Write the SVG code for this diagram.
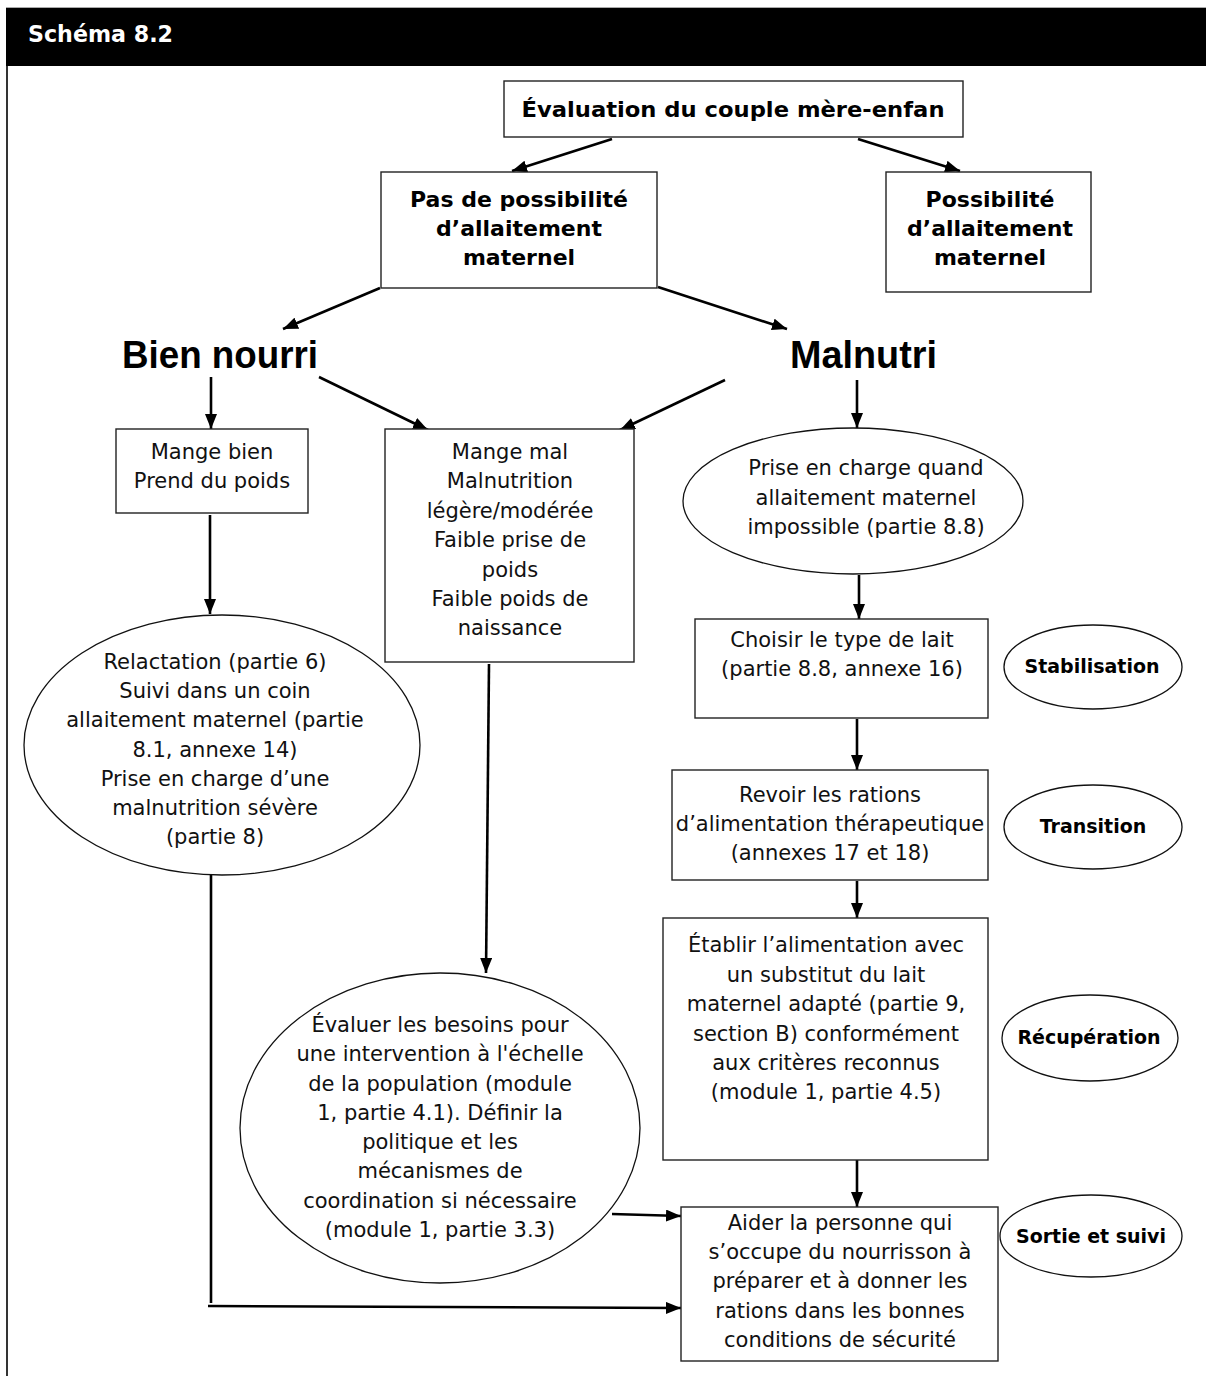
<svg xmlns="http://www.w3.org/2000/svg" width="1206" height="1376" viewBox="0 0 1206 1376">
<style>
.box{fill:#fff;stroke:#222;stroke-width:1.4}
.ell{fill:#fff;stroke:#111;stroke-width:1.3}
.t{font-family:"DejaVu Sans",Verdana,sans-serif;font-size:21px;fill:#111;text-anchor:middle}
.h{font-family:"DejaVu Sans",Verdana,sans-serif;font-weight:700;font-size:22px;fill:#000;text-anchor:middle}
.big{font-family:"Liberation Sans",Arial,sans-serif;font-weight:700;font-size:39px;fill:#000}
.ph{font-family:"DejaVu Sans",Verdana,sans-serif;font-weight:700;font-size:19px;fill:#000;text-anchor:middle}
.c{fill:none;stroke:#000;stroke-width:2.6}
</style>
<defs>
<marker id="ah" markerUnits="userSpaceOnUse" markerWidth="16" markerHeight="12" refX="15" refY="6" orient="auto">
<path d="M0,0 L15,6 L0,12 z" fill="#000"/>
</marker>
</defs>
<rect width="1206" height="1376" fill="#fff"/>
<g id="header">
<line x1="6" y1="7.5" x2="1206" y2="7.5" stroke="#aaa" stroke-width="1"/>
<rect x="6" y="8" width="1200" height="58" fill="#000"/>
<text x="28" y="42" font-family="'DejaVu Sans',Verdana,sans-serif" font-weight="700" font-size="23" fill="#fff" textLength="145" lengthAdjust="spacingAndGlyphs">Schéma 8.2</text>
<line x1="7" y1="66" x2="7" y2="1376" stroke="#000" stroke-width="1.6"/>
</g>
<g id="connectors">
<line class="c" x1="612" y1="139" x2="512" y2="171" marker-end="url(#ah)"/>
<line class="c" x1="858" y1="139" x2="960" y2="171" marker-end="url(#ah)"/>
<line class="c" x1="380" y1="288" x2="283" y2="329" marker-end="url(#ah)"/>
<line class="c" x1="658" y1="287" x2="787" y2="329" marker-end="url(#ah)"/>
<line class="c" x1="211" y1="377" x2="211" y2="429" marker-end="url(#ah)"/>
<line class="c" x1="319" y1="377" x2="428" y2="430" marker-end="url(#ah)"/>
<line class="c" x1="725" y1="380" x2="620" y2="430" marker-end="url(#ah)"/>
<line class="c" x1="857" y1="380" x2="857" y2="428" marker-end="url(#ah)"/>
<line class="c" x1="210" y1="515" x2="210" y2="614" marker-end="url(#ah)"/>
<line class="c" x1="489" y1="664" x2="486" y2="973" marker-end="url(#ah)"/>
<line class="c" x1="859" y1="575" x2="859" y2="619" marker-end="url(#ah)"/>
<line class="c" x1="857" y1="719" x2="857" y2="770" marker-end="url(#ah)"/>
<line class="c" x1="857" y1="881" x2="857" y2="918" marker-end="url(#ah)"/>
<line class="c" x1="857" y1="1160" x2="857" y2="1207" marker-end="url(#ah)"/>
<line class="c" x1="612" y1="1214" x2="681" y2="1216" marker-end="url(#ah)"/>
<polyline class="c" points="211,875 211,1303"/>
<line class="c" x1="208" y1="1306" x2="681" y2="1308" marker-end="url(#ah)"/>
</g>
<g id="n-evaluation">
<rect class="box" x="504" y="81" width="459" height="56"/>
<text class="h" x="733" y="117" textLength="423" lengthAdjust="spacingAndGlyphs">Évaluation du couple mère-enfan</text>
</g>
<g id="n-pas-possibilite">
<rect class="box" x="381" y="172" width="276" height="116"/>
<text class="h" x="519" y="207">Pas de possibilité</text>
<text class="h" x="519" y="236">d’allaitement</text>
<text class="h" x="519" y="265">maternel</text>
</g>
<g id="n-possibilite">
<rect class="box" x="886" y="172" width="205" height="120"/>
<text class="h" x="990" y="207">Possibilité</text>
<text class="h" x="990" y="236">d’allaitement</text>
<text class="h" x="990" y="265">maternel</text>
</g>
<g id="n-bien-nourri">
<text class="big" x="122" y="368" textLength="196" lengthAdjust="spacingAndGlyphs">Bien nourri</text>
</g>
<g id="n-malnutri">
<text class="big" x="790" y="368" textLength="147" lengthAdjust="spacingAndGlyphs">Malnutri</text>
</g>
<g id="n-mange-bien">
<rect class="box" x="116" y="429" width="192" height="84"/>
<text class="t" x="212" y="459">Mange bien</text>
<text class="t" x="212" y="488">Prend du poids</text>
</g>
<g id="n-mange-mal">
<rect class="box" x="385" y="429" width="249" height="233"/>
<text class="t" x="510" y="459">Mange mal</text>
<text class="t" x="510" y="488">Malnutrition</text>
<text class="t" x="510" y="518">légère/modérée</text>
<text class="t" x="510" y="547">Faible prise de</text>
<text class="t" x="510" y="577">poids</text>
<text class="t" x="510" y="606">Faible poids de</text>
<text class="t" x="510" y="635">naissance</text>
</g>
<g id="n-prise-en-charge">
<ellipse class="ell" cx="853" cy="501" rx="170" ry="73"/>
<text class="t" x="866" y="475">Prise en charge quand</text>
<text class="t" x="866" y="505">allaitement maternel</text>
<text class="t" x="866" y="534">impossible (partie 8.8)</text>
</g>
<g id="n-relactation">
<ellipse class="ell" cx="222" cy="745" rx="198" ry="130"/>
<text class="t" x="215" y="669">Relactation (partie 6)</text>
<text class="t" x="215" y="698">Suivi dans un coin</text>
<text class="t" x="215" y="727">allaitement maternel (partie</text>
<text class="t" x="215" y="757">8.1, annexe 14)</text>
<text class="t" x="215" y="786">Prise en charge d’une</text>
<text class="t" x="215" y="815">malnutrition sévère</text>
<text class="t" x="215" y="844">(partie 8)</text>
</g>
<g id="n-choisir">
<rect class="box" x="695" y="619" width="293" height="99"/>
<text class="t" x="842" y="647">Choisir le type de lait</text>
<text class="t" x="842" y="676">(partie 8.8, annexe 16)</text>
</g>
<g id="n-stabilisation">
<ellipse class="ell" cx="1093" cy="667" rx="89" ry="42"/>
<text class="ph" x="1092" y="673">Stabilisation</text>
</g>
<g id="n-revoir">
<rect class="box" x="672" y="770" width="316" height="110"/>
<text class="t" x="830" y="802">Revoir les rations</text>
<text class="t" x="830" y="831">d’alimentation thérapeutique</text>
<text class="t" x="830" y="860">(annexes 17 et 18)</text>
</g>
<g id="n-transition">
<ellipse class="ell" cx="1093" cy="827" rx="89" ry="42"/>
<text class="ph" x="1093" y="833">Transition</text>
</g>
<g id="n-etablir">
<rect class="box" x="663" y="918" width="325" height="242"/>
<text class="t" x="826" y="952">Établir l’alimentation avec</text>
<text class="t" x="826" y="982">un substitut du lait</text>
<text class="t" x="826" y="1011">maternel adapté (partie 9,</text>
<text class="t" x="826" y="1041">section B) conformément</text>
<text class="t" x="826" y="1070">aux critères reconnus</text>
<text class="t" x="826" y="1099">(module 1, partie 4.5)</text>
</g>
<g id="n-recuperation">
<ellipse class="ell" cx="1090" cy="1038" rx="88" ry="43"/>
<text class="ph" x="1089" y="1044">Récupération</text>
</g>
<g id="n-evaluer">
<ellipse class="ell" cx="440" cy="1128" rx="200" ry="155"/>
<text class="t" x="440" y="1032">Évaluer les besoins pour</text>
<text class="t" x="440" y="1061">une intervention à l'échelle</text>
<text class="t" x="440" y="1091">de la population (module</text>
<text class="t" x="440" y="1120">1, partie 4.1). Définir la</text>
<text class="t" x="440" y="1149">politique et les</text>
<text class="t" x="440" y="1178">mécanismes de</text>
<text class="t" x="440" y="1208">coordination si nécessaire</text>
<text class="t" x="440" y="1237">(module 1, partie 3.3)</text>
</g>
<g id="n-aider">
<rect class="box" x="681" y="1207" width="317" height="154"/>
<text class="t" x="840" y="1230">Aider la personne qui</text>
<text class="t" x="840" y="1259">s’occupe du nourrisson à</text>
<text class="t" x="840" y="1288">préparer et à donner les</text>
<text class="t" x="840" y="1318">rations dans les bonnes</text>
<text class="t" x="840" y="1347">conditions de sécurité</text>
</g>
<g id="n-sortie">
<ellipse class="ell" cx="1091" cy="1236" rx="91" ry="41"/>
<text class="ph" x="1091" y="1243">Sortie et suivi</text>
</g>
</svg>
